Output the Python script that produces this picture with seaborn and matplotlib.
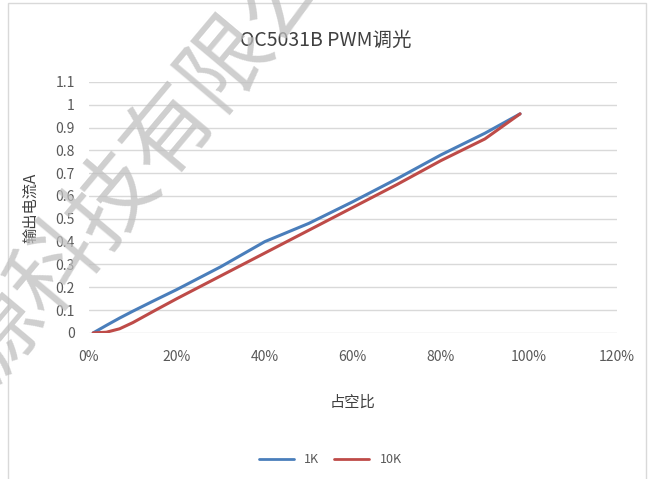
import matplotlib
matplotlib.use("Agg")
import matplotlib.pyplot as plt
from matplotlib.lines import Line2D
import seaborn as sns
import pandas as pd

# duty cycle (fraction) and output current (A)
duty = [0.01, 0.04, 0.07, 0.10, 0.15, 0.20, 0.30, 0.40, 0.50, 0.60, 0.70, 0.80, 0.90, 0.98]
current_1k = [0.0, 0.033, 0.065, 0.095, 0.143, 0.19, 0.29, 0.40, 0.48, 0.575, 0.675, 0.78, 0.875, 0.96]
current_10k = [0.0, 0.003, 0.018, 0.045, 0.098, 0.15, 0.25, 0.35, 0.45, 0.55, 0.65, 0.755, 0.85, 0.96]
series_names = ["1K", "10K"]
x_ticks = [0, 0.2, 0.4, 0.6, 0.8, 1.0, 1.2]
x_tick_labels = ["0%", "20%", "40%", "60%", "80%", "100%", "120%"]
y_ticks = [0, 0.1, 0.2, 0.3, 0.4, 0.5, 0.6, 0.7, 0.8, 0.9, 1, 1.1]
y_tick_labels = ["0", "0.1", "0.2", "0.3", "0.4", "0.5", "0.6", "0.7", "0.8", "0.9", "1", "1.1"]

df = pd.DataFrame({
    "duty": duty * 2,
    "current": current_1k + current_10k,
    "series": [series_names[0]] * len(duty) + [series_names[1]] * len(duty),
})

sns.set_style("white")
plt.rcParams["font.family"] = ["Noto Sans CJK SC", "DejaVu Sans"]

fig = plt.figure(figsize=(6.48, 4.79), dpi=100)
ax = fig.add_axes([0.137, 0.305, 0.815, 0.524])

sns.lineplot(
    data=df, x="duty", y="current", hue="series",
    palette=["#4a7ebb", "#be4b48"], linewidth=2.2, ax=ax, legend=False,
)

ax.set_xlim(0, 1.2)
ax.set_ylim(0, 1.1)
ax.set_xticks(x_ticks)
ax.set_xticklabels(x_tick_labels)
ax.set_yticks(y_ticks)
ax.set_yticklabels(y_tick_labels)
ax.yaxis.grid(True, color="#d9d9d9", linewidth=1)
ax.tick_params(axis="both", length=0, labelsize=10, labelcolor="#595959")
ax.tick_params(axis="x", pad=12)
ax.tick_params(axis="y", pad=10)
for s in ["top", "right", "left", "bottom"]:
    ax.spines[s].set_visible(False)

ax.set_xlabel("占空比", fontsize=11, color="#404040", labelpad=22)
ax.set_ylabel("输出电流A", fontsize=11, color="#404040", labelpad=12)
fig.text(0.503, 0.915, "OC5031B PWM调光", ha="center", va="center",
         fontsize=14, color="#404040")

# legend at the bottom
handles = [Line2D([], [], color="#4a7ebb", lw=2), Line2D([], [], color="#be4b48", lw=2)]
fig.legend(handles, series_names, loc="center", bbox_to_anchor=(0.51, 0.04),
           ncol=2, frameon=False, fontsize=9, handlelength=2.8,
           columnspacing=1.2, labelcolor="#595959")

# chart border
fig.patches.append(plt.Rectangle((0.012, -0.01), 0.985, 1.003, transform=fig.transFigure,
                                 fill=False, edgecolor="#d9d9d9", linewidth=1))

# watermark
fig.text(0.265, 0.724, "源科技有限公司", rotation=50, ha="center", va="center",
         fontsize=64, color="#bfbfbf", alpha=0.75, zorder=10)

fig.savefig("out.png", dpi=100)
